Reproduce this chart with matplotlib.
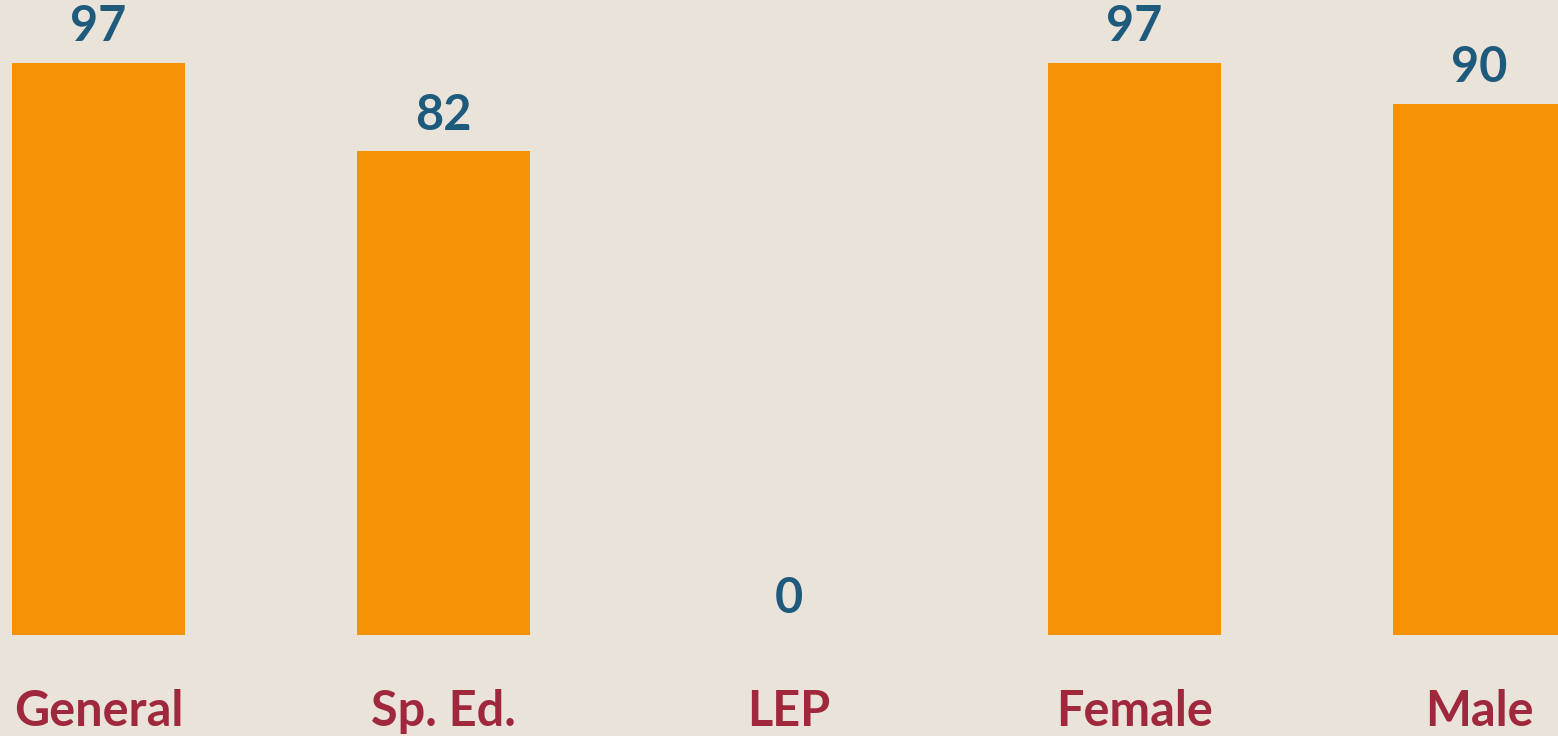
import matplotlib.pyplot as plt

categories = ["General", "Sp. Ed.", "LEP", "Female", "Male"]
values = [97, 82, 0, 97, 90]

BG = "#E9E3DA"
BAR = "#F59204"
NUM = "#1E5A7C"
LAB = "#A0283C"

fig = plt.figure(figsize=(15.58, 7.36), dpi=100, facecolor=BG)
ax = fig.add_axes([0, 0.1379, 1, 0.8621])
ax.set_facecolor(BG)

x = range(len(categories))
ax.bar(x, values, width=0.501, color=BAR)

ax.set_xlim(-0.2853, 4.2274)
ax.set_ylim(0, 107.69)

for i, (cat, v) in enumerate(zip(categories, values)):
    ax.text(i, v + 3.7, str(v), ha="center", va="baseline",
            fontsize=35, fontweight="bold", family="Lato", color=NUM)
    ax.text(i, -15.6, cat, ha="center", va="baseline",
            fontsize=35, fontweight="bold", family="Lato", color=LAB,
            clip_on=False)

ax.axis("off")
fig.savefig("out.png", dpi=100, facecolor=BG)
